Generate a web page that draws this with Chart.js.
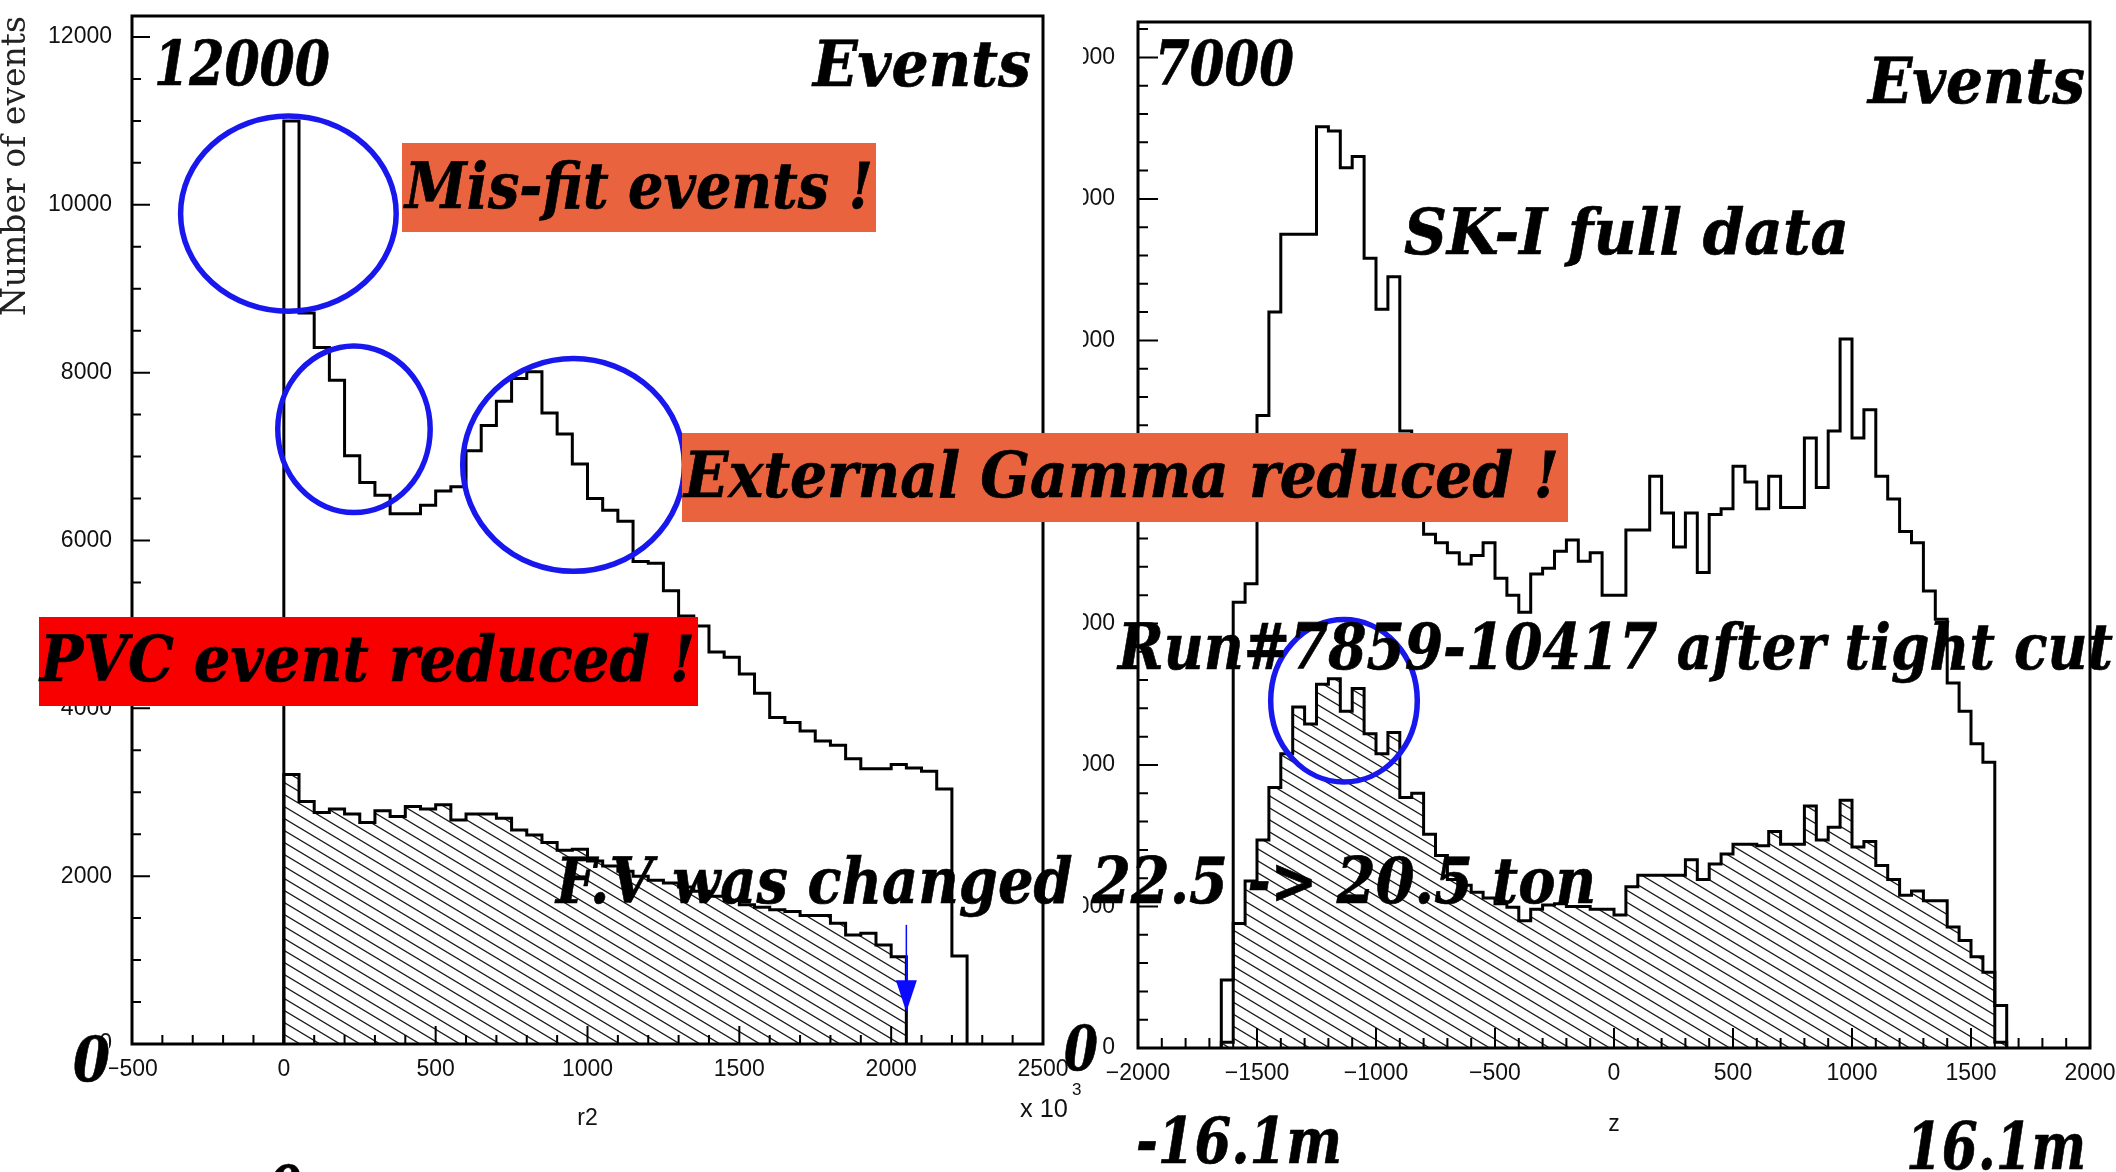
<!DOCTYPE html>
<html>
<head>
<meta charset="utf-8">
<title>SK-I vertex distributions</title>
<script src="https://cdn.jsdelivr.net/npm/chart.js@4.4.1/dist/chart.umd.min.js"></script>
<style>
  html, body { margin: 0; padding: 0; background: #fff; }
  #page { position: relative; width: 2116px; height: 1172px; overflow: hidden; background: #fff; }
  .panel { position: absolute; top: 0; }
  #leftPanel { left: 0; }
  #rightPanel { left: 1083px; }
  .tag { position: absolute; }
  .note { position: absolute; left: 0; top: 0; white-space: nowrap; line-height: 1; transform-origin: 0 0; color: #000; }
  .big { font-family: 'DejaVu Serif', 'Liberation Serif', serif; font-weight: bold; font-style: italic; -webkit-text-stroke: 0.7px #000; }
  .small { font-family: 'Liberation Sans', Arial, sans-serif; color: #111; }
  .mark { display: inline-block; width: 0; height: 0; }
</style>
</head>
<body>
<div id="page">
  <div class="panel" id="leftPanel"><canvas id="r2Chart" width="1083" height="1172"></canvas></div>
  <div class="panel" id="rightPanel"><canvas id="zChart" width="1033" height="1172"></canvas></div>
</div>
<script>
// r2 distribution (x10^3 cm^2), 50-wide bins from 0
const r2BinStart = 0;
const r2BinWidth = 50;
const r2AllEvents = [11000, 8710, 8300, 7910, 7010, 6690, 6540, 6320, 6320, 6420,
  6590, 6640, 7070, 7370, 7660, 7930, 8010, 7520, 7270, 6910,
  6500, 6360, 6230, 5750, 5730, 5400, 5100, 4980, 4670, 4610,
  4410, 4180, 3890, 3830, 3730, 3610, 3560, 3400, 3280, 3280,
  3330, 3290, 3250, 3040, 1050];
const r2TightCut = [3210, 2890, 2760, 2800, 2740, 2640, 2780, 2710, 2830, 2800,
  2850, 2670, 2740, 2740, 2690, 2550, 2490, 2400, 2310, 2320,
  2180, 2120, 2060, 2000, 1950, 1920, 1870, 1820, 1760, 1710,
  1660, 1630, 1600, 1580, 1530, 1530, 1440, 1300, 1320, 1180,
  1040];

// z distribution (cm), 50-wide bins from -1650
const zBinStart = -1650;
const zBinWidth = 50;
const zAllEvents = [480, 3150, 3280, 4470, 5200, 5750, 5750, 5750, 6510, 6480,
  6220, 6300, 5580, 5220, 5450, 4360, 4000, 3630, 3570, 3500,
  3420, 3480, 3570, 3320, 3200, 3080, 3350, 3390, 3510, 3590,
  3440, 3500, 3200, 3200, 3660, 3660, 4040, 3780, 3540, 3780,
  3360, 3770, 3810, 4110, 4000, 3810, 4040, 3820, 3820, 4310,
  3960, 4360, 5010, 4310, 4510, 4040, 3880, 3650, 3570, 3230,
  3030, 2580, 2380, 2150, 2020, 300];
const zTightCut = [40, 880, 1180, 1470, 1840, 2080, 2410, 2290, 2570, 2610,
  2380, 2540, 2220, 2080, 2230, 1770, 1800, 1510, 1360, 1190,
  1150, 1100, 1060, 1020, 995, 900, 980, 1010, 1020, 1000,
  1000, 980, 980, 940, 1140, 1220, 1220, 1220, 1220, 1330,
  1190, 1300, 1370, 1440, 1440, 1430, 1530, 1440, 1440, 1710,
  1470, 1560, 1750, 1420, 1460, 1290, 1190, 1080, 1110, 1040,
  1040, 855, 760, 645, 535, 40];

// axis ranges
const r2Range = [-500, 2500];
const r2CountMax = 12250;
const zRange = [-2000, 2000];
const zCountMax = 7250;

// histogram outline: start at the floor, one point per bin, back to the floor
function histPoints(start, width, counts) {
  const pts = [{ x: start, y: 0 }];
  counts.forEach((c, i) => pts.push({ x: start + i * width, y: c }));
  pts.push({ x: start + counts.length * width, y: 0 });
  return pts;
}

// labelled ticks every `step` from 0 up to max
function countTicks(max, step) {
  const out = [];
  for (let i = 0; i * step <= max; i++) out.push({ value: i * step });
  return out;
}

// diagonal hatching for the tight-cut sample
function makeHatch() {
  const w = 20, h = 12;
  const c = document.createElement('canvas');
  c.width = w; c.height = h;
  const g = c.getContext('2d');
  g.strokeStyle = '#1a1a1a';
  g.lineWidth = 1.3;
  g.beginPath();
  for (let k = -1; k <= 1; k++) {
    g.moveTo(-4, k * h - 4 * h / w);
    g.lineTo(w + 4, k * h + h + 4 * h / w);
  }
  g.stroke();
  return g.createPattern(c, 'repeat');
}

const labelFont = { family: "'Liberation Sans', Arial, sans-serif", size: 23 };
const fmtTick = v => (v < 0 ? '\u2212' + Math.abs(v) : String(v));

// frame box plus inward PAW-style ticks
const axisFrame = {
  id: 'axisFrame',
  afterDatasetsDraw(chart, args, o) {
    const { ctx, chartArea: a, scales: { x, y } } = chart;
    ctx.save();
    ctx.strokeStyle = '#000';
    ctx.lineWidth = 2;
    ctx.beginPath();
    for (let i = Math.ceil(x.min / o.xMinor); i * o.xMinor <= x.max; i++) {
      const v = i * o.xMinor;
      const len = v % o.xMajor === 0 ? o.majorLen : o.minorLen;
      const px = x.getPixelForValue(v);
      ctx.moveTo(px, a.bottom);
      ctx.lineTo(px, a.bottom - len);
    }
    for (let i = Math.ceil(y.min / o.yMinor); i * o.yMinor <= y.max; i++) {
      const v = i * o.yMinor;
      const len = v % o.yMajor === 0 ? o.majorLen : o.minorLen;
      const py = y.getPixelForValue(v);
      ctx.moveTo(a.left, py);
      ctx.lineTo(a.left + len, py);
    }
    ctx.stroke();
    ctx.lineWidth = 3;
    ctx.strokeRect(a.left, a.top, a.width, a.height);
    ctx.restore();
  }
};

// blue rings and the F.V. arrow, given in data units
const callouts = {
  id: 'callouts',
  afterDatasetsDraw(chart, args, o) {
    const { ctx, scales: { x, y } } = chart;
    ctx.save();
    (o.rings || []).forEach(r => {
      const x0 = x.getPixelForValue(r.x0), x1 = x.getPixelForValue(r.x1);
      const y0 = y.getPixelForValue(r.y0), y1 = y.getPixelForValue(r.y1);
      ctx.strokeStyle = o.color;
      ctx.lineWidth = o.width;
      ctx.beginPath();
      ctx.ellipse((x0 + x1) / 2, (y0 + y1) / 2,
        Math.abs(x1 - x0) / 2 - o.width / 2, Math.abs(y1 - y0) / 2 - o.width / 2,
        0, 0, Math.PI * 2);
      ctx.stroke();
    });
    (o.arrows || []).forEach(ar => {
      const px = x.getPixelForValue(ar.x);
      const yTop = y.getPixelForValue(ar.from);
      const yBase = y.getPixelForValue(ar.head);
      const yTip = y.getPixelForValue(ar.to);
      ctx.strokeStyle = o.arrowColor;
      ctx.fillStyle = o.arrowColor;
      ctx.lineWidth = 1.5;
      ctx.beginPath();
      ctx.moveTo(px, yTop);
      ctx.lineTo(px, yBase);
      ctx.stroke();
      ctx.beginPath();
      ctx.moveTo(px - 10.5, yBase);
      ctx.lineTo(px + 10.5, yBase);
      ctx.lineTo(px, yTip);
      ctx.closePath();
      ctx.fill();
    });
    ctx.restore();
  }
};

function histChart(canvasId, cfg) {
  const hatch = makeHatch();
  return new Chart(document.getElementById(canvasId), {
    type: 'line',
    data: {
      datasets: [
        {
          label: 'all events',
          data: histPoints(cfg.start, cfg.width, cfg.all),
          stepped: true,
          borderColor: '#000',
          borderWidth: 3,
          pointRadius: 0,
          fill: false
        },
        {
          label: 'after tight cut',
          data: histPoints(cfg.start, cfg.width, cfg.cut),
          stepped: true,
          borderColor: '#000',
          borderWidth: 3,
          pointRadius: 0,
          fill: 'origin',
          backgroundColor: hatch
        }
      ]
    },
    options: {
      responsive: false,
      animation: false,
      layout: { padding: cfg.padding },
      plugins: {
        legend: { display: false },
        tooltip: { enabled: false },
        axisFrame: cfg.ticks,
        callouts: cfg.callouts
      },
      scales: {
        x: {
          type: 'linear',
          min: cfg.xRange[0],
          max: cfg.xRange[1],
          grid: { display: false, drawTicks: false },
          border: { display: false },
          ticks: {
            stepSize: cfg.ticks.xMajor,
            autoSkip: false,
            maxRotation: 0,
            padding: 12,
            color: '#111',
            font: labelFont,
            callback: fmtTick
          },
          title: {
            display: true,
            text: cfg.xTitle,
            color: '#111',
            font: { family: labelFont.family, size: 23 },
            padding: { top: 0, bottom: cfg.xTitlePad }
          },
          afterFit(s) {
            s.height = cfg.xAxisHeight;
            s.paddingLeft = 0;
            s.paddingRight = 0;
          }
        },
        y: {
          type: 'linear',
          min: 0,
          max: cfg.yMax,
          grid: { display: false, drawTicks: false },
          border: { display: false },
          ticks: {
            autoSkip: false,
            padding: cfg.yLabelPad,
            color: '#111',
            font: labelFont,
            callback: fmtTick
          },
          afterBuildTicks(s) {
            s.ticks = countTicks(cfg.yMax, cfg.ticks.yMajor);
          },
          title: cfg.yTitle,
          afterFit(s) {
            s.width = cfg.yAxisWidth;
            s.paddingTop = 0;
            s.paddingBottom = 0;
          }
        }
      }
    },
    plugins: [axisFrame, callouts]
  });
}

histChart('r2Chart', {
  start: r2BinStart, width: r2BinWidth, all: r2AllEvents, cut: r2TightCut,
  xRange: r2Range, yMax: r2CountMax,
  padding: { left: 0, right: 40, top: 16, bottom: 0 },
  xAxisHeight: 128, yAxisWidth: 132, yLabelPad: 20,
  xTitle: 'r2', xTitlePad: 40,
  yTitle: {
    display: true,
    text: 'Number of events',
    align: 'end',
    color: '#222',
    font: { family: "'DejaVu Serif', serif", size: 33, lineHeight: 1 },
    padding: { top: 0, bottom: 0 }
  },
  ticks: { xMajor: 500, xMinor: 100, yMajor: 2000, yMinor: 500, majorLen: 18, minorLen: 9 },
  callouts: {
    color: '#1717ee', width: 5.5, arrowColor: '#0a0aff',
    rings: [
      { x0: -349, x1: 379, y0: 8700, y1: 11090 },
      { x0: -29, x1: 491, y0: 6300, y1: 8350 },
      { x0: 580, x1: 1328, y0: 5600, y1: 8200 }
    ],
    arrows: [{ x: 2050, from: 1420, head: 760, to: 380 }]
  }
});

histChart('zChart', {
  start: zBinStart, width: zBinWidth, all: zAllEvents, cut: zTightCut,
  xRange: zRange, yMax: zCountMax,
  padding: { left: 0, right: 26, top: 22, bottom: 0 },
  xAxisHeight: 124, yAxisWidth: 55, yLabelPad: 23,
  xTitle: 'z', xTitlePad: 34,
  yTitle: { display: false },
  ticks: { xMajor: 500, xMinor: 100, yMajor: 1000, yMinor: 200, majorLen: 20, minorLen: 10 },
  callouts: {
    color: '#1717ee', width: 5.5, arrowColor: '#0a0aff',
    rings: [{ x0: -1454, x1: -815, y0: 1860, y1: 3047 }],
    arrows: []
  }
});

// slide annotations laid over both panels
const page = document.getElementById('page');

const tags = [
  { x: 402, y: 143, w: 474, h: 89, color: '#e9633f' },
  { x: 682, y: 433, w: 886, h: 89, color: '#e9633f' },
  { x: 39, y: 617, w: 659, h: 89, color: '#f90000' },
  { x: 64, y: 1041, w: 45, h: 60, color: '#ffffff' }
];

const notes = [
  { text: '12000', x: 154, base: 85, w: 176, size: 62 },
  { text: 'Events', x: 813, base: 86, w: 218, size: 64 },
  { text: 'Mis-fit events !', x: 405, base: 208, w: 468, size: 64 },
  { text: 'External Gamma reduced !', x: 684, base: 497, w: 875, size: 64 },
  { text: 'PVC event reduced !', x: 40, base: 681, w: 655, size: 64 },
  { text: 'F.V was changed 22.5 -> 20.5 ton', x: 556, base: 903, w: 1040, size: 64 },
  { text: '7000', x: 1155, base: 85, w: 139, size: 62 },
  { text: 'Events', x: 1868, base: 103, w: 217, size: 64 },
  { text: 'SK-I full data', x: 1404, base: 254, w: 445, size: 64 },
  { text: 'Run#7859-10417 after tight cut', x: 1118, base: 669, w: 995, size: 64 },
  { text: '0', x: 73, base: 1081, w: 37, size: 62 },
  { text: '0', x: 1064, base: 1070, w: 34, size: 62 },
  { text: '0', x: 268, base: 1210, w: 34, size: 62 },
  { text: '-16.1m', x: 1136, base: 1163, w: 206, size: 64 },
  { text: '16.1m', x: 1906, base: 1169, w: 180, size: 65 }
];

const unitNotes = [
  { text: 'x 10', x: 1020, base: 1117, w: 48, size: 25 },
  { text: '3', x: 1072, base: 1095, size: 17 }
];

function placeTag(t) {
  const el = document.createElement('div');
  el.className = 'tag';
  el.style.cssText = `left:${t.x}px;top:${t.y}px;width:${t.w}px;height:${t.h}px;background:${t.color}`;
  page.appendChild(el);
}

function placeNote(n, cls) {
  const el = document.createElement('div');
  el.className = 'note ' + cls;
  el.style.fontSize = n.size + 'px';
  const txt = document.createElement('span');
  txt.textContent = n.text;
  const mark = document.createElement('span');
  mark.className = 'mark';
  el.append(txt, mark);
  page.appendChild(el);
  const top0 = page.getBoundingClientRect().top;
  const base = mark.getBoundingClientRect().bottom - top0;
  const sx = n.w ? n.w / txt.getBoundingClientRect().width : 1;
  el.style.left = n.x + 'px';
  el.style.top = (n.base - base) + 'px';
  el.style.transform = `scaleX(${sx})`;
}

tags.forEach(placeTag);
notes.forEach(n => placeNote(n, 'big'));
unitNotes.forEach(n => placeNote(n, 'small'));
</script>
</body>
</html>
